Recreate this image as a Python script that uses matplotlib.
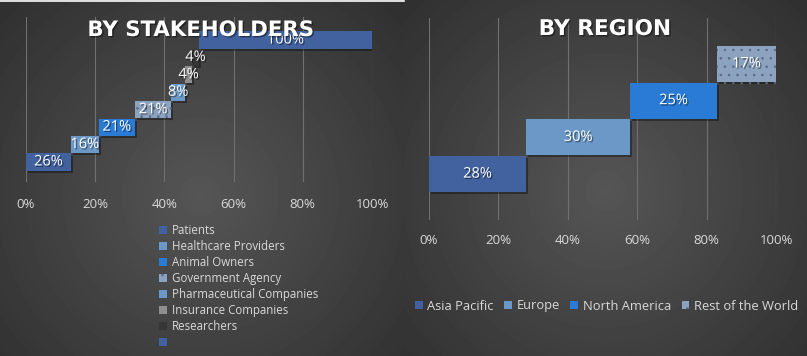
import numpy as np
import matplotlib
matplotlib.use('Agg')
import matplotlib.pyplot as plt
import matplotlib.patheffects as pe
from matplotlib.patches import Patch

plt.rcParams['font.family'] = ['Open Sans', 'DejaVu Sans']
plt.rcParams['hatch.linewidth'] = 0.6

# ---------------- data ----------------
stake_labels = ['Patients', 'Healthcare Providers', 'Animal Owners', 'Government Agency',
                'Pharmaceutical Companies', 'Insurance Companies', 'Researchers', '']
stake_values = [26, 16, 21, 21, 8, 4, 4, 100]
stake_colors = ['#41629f', '#6b98c6', '#2a7bd5', '#8ca3c0', '#6b98c6', '#8f8f8f', '#363636', '#41629f']
stake_hatch = [None, None, None, '..', None, None, None, None]

region_labels = ['Asia Pacific', 'Europe', 'North America', 'Rest of the World']
region_values = [28, 30, 25, 17]
region_colors = ['#41629f', '#6b98c6', '#2a7bd5', '#8ca3c0']
region_hatch = [None, None, None, '..']

tick_vals = [0, 0.2, 0.4, 0.6, 0.8, 1.0]
tick_labels = ['0%', '20%', '40%', '60%', '80%', '100%']

HATCH_COL = '#5a6a85'

W, H = 807, 356
fig = plt.figure(figsize=(W / 100, H / 100), dpi=100)

# ---------------- background ----------------
bg = fig.add_axes([0, 0, 1, 1], zorder=-10)
yy, xx = np.mgrid[0:H, 0:W]


def radial(cx, cy, R, c0=0.335, c1=0.175):
    r = np.sqrt((xx - cx) ** 2 + (yy - cy) ** 2) / R
    return c0 - (c0 - c1) * np.clip(r, 0, 1)


img = np.where(xx < 403, radial(200, 195, 300), radial(605, 190, 300))
bg.imshow(img, cmap='gray', vmin=0, vmax=1, extent=(0, W, H, 0), aspect='auto', interpolation='bilinear')
bg.plot([0, 404], [0.5, 0.5], color='white', lw=1.2)
bg.set_xlim(0, W)
bg.set_ylim(H, 0)
bg.axis('off')


def ax_rect(x0, x1, ytop, ybot):
    return [x0 / W, 1 - ybot / H, (x1 - x0) / W, (ybot - ytop) / H]


txt_shadow = [pe.SimplePatchShadow(offset=(1, -1), shadow_rgbFace='black', alpha=0.45), pe.Normal()]
bar_shadow = [pe.SimplePatchShadow(offset=(1.5, -1.5), shadow_rgbFace='black', alpha=0.35), pe.Normal()]


def style_axis(ax, pad):
    ax.set_facecolor('none')
    for s in ax.spines.values():
        s.set_visible(False)
    ax.set_xlim(0, 1)
    ax.set_xticks(tick_vals)
    ax.set_xticklabels(tick_labels)
    ax.tick_params(axis='x', length=0, pad=pad, labelsize=9.5, labelcolor='#d9d9d9')
    ax.set_yticks([])
    ax.xaxis.grid(True, color='#707070', lw=0.8)
    ax.set_axisbelow(True)


def draw_bars(ax, values, colors, hatches, total):
    lefts = np.concatenate([[0], np.cumsum(values)[:-1]]) / total
    widths = np.array(values) / total
    for i, (l, w, c, h, v) in enumerate(zip(lefts, widths, colors, hatches, values)):
        b = ax.barh(i, w, left=l, height=0.98, color=c, hatch=h,
                    edgecolor=HATCH_COL if h else c, linewidth=0, zorder=3)
        for p in b:
            p.set_path_effects(bar_shadow)
        ax.text(l + w / 2, i, f'{v}%', ha='center', va='center', color='white',
                fontsize=10.5, zorder=5, path_effects=txt_shadow)


# ---------------- left: by stakeholders ----------------
axL = fig.add_axes(ax_rect(26, 372, 17, 182))
style_axis(axL, 11.5)
draw_bars(axL, stake_values, stake_colors, stake_hatch, sum(stake_values))
axL.set_ylim(-1.15, 8.32)

fig.text(201 / W, 1 - 30 / H, 'BY STAKEHOLDERS', ha='center', va='center', color='white',
         fontsize=15.3, fontweight='bold', family='DejaVu Sans', path_effects=txt_shadow, zorder=10)

handlesL = [Patch(facecolor=c, hatch=h, edgecolor=HATCH_COL if h else c, linewidth=0)
            for c, h in zip(stake_colors, stake_hatch)]
handlesL[-1] = Patch(facecolor='#41629f', linewidth=0)
fig.legend(handlesL, stake_labels, loc='upper left', bbox_to_anchor=(159 / W, 1 - 224 / H),
           ncol=1, frameon=False, fontsize=8.3, labelcolor='#d9d9d9', handlelength=0.7,
           handleheight=0.7, handletextpad=0.45, labelspacing=0.26, borderpad=0, borderaxespad=0)

# ---------------- right: by region ----------------
axR = fig.add_axes(ax_rect(429, 776, 18, 220))
style_axis(axR, 10)
draw_bars(axR, region_values, region_colors, region_hatch, sum(region_values))
axR.set_ylim(-1.25, 4.25)

fig.text(605 / W, 1 - 29 / H, 'BY REGION', ha='center', va='center', color='white',
         fontsize=15.6, fontweight='bold', family='DejaVu Sans', path_effects=txt_shadow, zorder=10)

handlesR = [Patch(facecolor=c, hatch=h, edgecolor=HATCH_COL if h else c, linewidth=0)
            for c, h in zip(region_colors, region_hatch)]
fig.legend(handlesR, region_labels, loc='center left', bbox_to_anchor=(415 / W, 1 - 306 / H),
           ncol=4, frameon=False, fontsize=9.3, labelcolor='#d9d9d9', handlelength=0.6,
           handleheight=0.6, handletextpad=0.35, columnspacing=0.82, borderpad=0, borderaxespad=0)

fig.savefig('out.png', dpi=100)
